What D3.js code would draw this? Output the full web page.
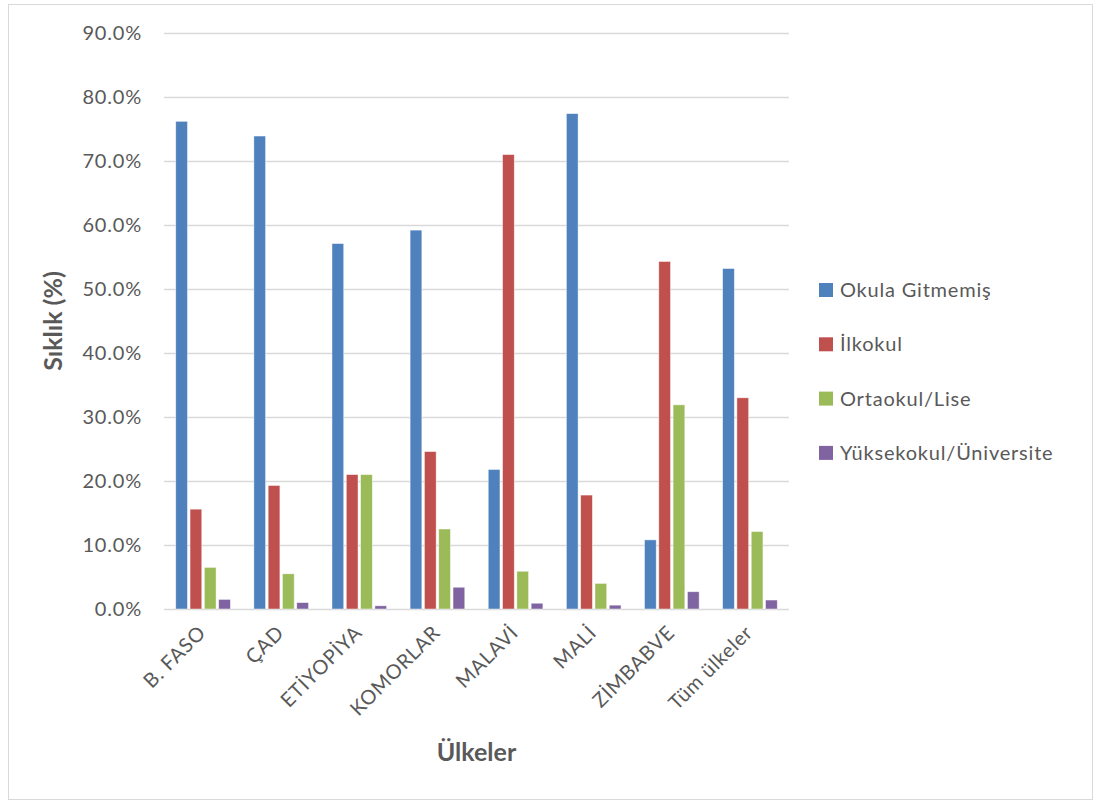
<!DOCTYPE html>
<html>
<head>
<meta charset="utf-8">
<script src="https://cdn.jsdelivr.net/npm/d3@7/dist/d3.min.js"></script>
<style>
  html, body { margin: 0; padding: 0; background: #fff; }
  svg text { font-family: Lato, "Open Sans", sans-serif; fill: #595959; }
</style>
</head>
<body>
<svg id="chart" width="1094" height="801"></svg>
<script>
// Education level distribution by country (percent)
const countries = ["B. FASO", "ÇAD", "ETİYOPİYA", "KOMORLAR", "MALAVİ", "MALİ", "ZİMBABVE", "Tüm ülkeler"];
const seriesNames = ["Okula Gitmemiş", "İlkokul", "Ortaokul/Lise", "Yüksekokul/Üniversite"];
const okulaGitmemis = [76.2, 73.9, 57.1, 59.2, 21.8, 77.4, 10.8, 53.2];
const ilkokul       = [15.6, 19.3, 21.0, 24.6, 71.0, 17.8, 54.3, 33.0];
const ortaokulLise  = [6.5, 5.5, 21.0, 12.5, 5.9, 4.0, 31.9, 12.1];
const yuksekokul    = [1.5, 1.0, 0.5, 3.4, 0.9, 0.6, 2.7, 1.4];
const yTicks = [0, 10, 20, 30, 40, 50, 60, 70, 80, 90];
const colors = ["#4F81BD", "#C0504D", "#9BBB59", "#8064A2"];

const seriesValues = [okulaGitmemis, ilkokul, ortaokulLise, yuksekokul];
const FONT = 'Lato, "Open Sans", sans-serif';

const svg = d3.select("#chart");

// outer chart frame
svg.append("rect")
  .attr("x", 8.5).attr("y", 4.5)
  .attr("width", 1084).attr("height", 795)
  .attr("fill", "#fff").attr("stroke", "#D9D9D9").attr("stroke-width", 1);

const plot = { left: 164, right: 789, top: 33, bottom: 609 };

const y = d3.scaleLinear().domain([0, 90]).range([plot.bottom, plot.top]);
const x0 = d3.scaleBand().domain(countries).range([plot.left, plot.right]).padding(0);
const x1 = d3.scaleBand().domain(d3.range(seriesNames.length))
  .range([0, x0.bandwidth()]).paddingInner(0.18).paddingOuter(0.82);

// gridlines
svg.append("g")
  .selectAll("line")
  .data(yTicks)
  .join("line")
  .attr("x1", plot.left).attr("x2", plot.right)
  .attr("y1", d => Math.round(y(d)) + 0.5).attr("y2", d => Math.round(y(d)) + 0.5)
  .attr("stroke", "#D9D9D9").attr("stroke-width", 1.5);

// y axis labels
const yAxis = d3.axisLeft(y).tickValues(yTicks).tickSize(0).tickPadding(0)
  .tickFormat(d => d.toFixed(1) + "%");
const gy = svg.append("g").attr("transform", `translate(142,0)`).call(yAxis);
gy.select(".domain").remove();
gy.selectAll("text").attr("font-size", 20).attr("fill", "#595959")
  .attr("letter-spacing", 0.8)
  .style("font-family", FONT);

// bars
const groups = svg.append("g")
  .selectAll("g")
  .data(countries)
  .join("g")
  .attr("transform", d => `translate(${x0(d)},0)`);

groups.selectAll("rect")
  .data((c, i) => seriesValues.map((vals, s) => ({ s, v: vals[i] })))
  .join("rect")
  .attr("x", d => x1(d.s))
  .attr("width", x1.bandwidth())
  .attr("y", d => y(d.v))
  .attr("height", d => y(0) - y(d.v))
  .attr("fill", d => colors[d.s])
  .attr("stroke", "#ffffff").attr("stroke-opacity", 0.6).attr("stroke-width", 0.75);

// x axis
const xAxis = d3.axisBottom(x0).tickSize(0).tickPadding(0);
const gx = svg.append("g").attr("transform", `translate(0,${plot.bottom})`).call(xAxis);
gx.select(".domain").remove();
gx.selectAll("text")
  .attr("font-size", 20).attr("fill", "#595959")
  .attr("letter-spacing", 0.7)
  .style("font-family", FONT)
  .attr("text-anchor", "end")
  .attr("dy", null).attr("y", null)
  .attr("transform", "translate(4,25) rotate(-45)");

// axis titles
svg.append("text")
  .attr("x", plot.left + (plot.right - plot.left) / 2)
  .attr("y", 761)
  .attr("text-anchor", "middle")
  .attr("font-size", 25).attr("font-weight", "bold")
  .text("Ülkeler");

svg.append("text")
  .attr("transform", `translate(62,${(plot.top + plot.bottom) / 2}) rotate(-90)`)
  .attr("text-anchor", "middle")
  .attr("font-size", 25).attr("font-weight", "bold")
  .text("Sıklık (%)");

// legend
const legend = svg.append("g")
  .selectAll("g")
  .data(seriesNames)
  .join("g")
  .attr("transform", (d, i) => `translate(819,${290 + i * 54.3})`);

legend.append("rect")
  .attr("x", 0).attr("y", -7)
  .attr("width", 14).attr("height", 14)
  .attr("fill", (d, i) => colors[i]);

legend.append("text")
  .attr("x", 21).attr("y", 7)
  .attr("font-size", 20)
  .attr("letter-spacing", 0.8)
  .text(d => d);
</script>
</body>
</html>
